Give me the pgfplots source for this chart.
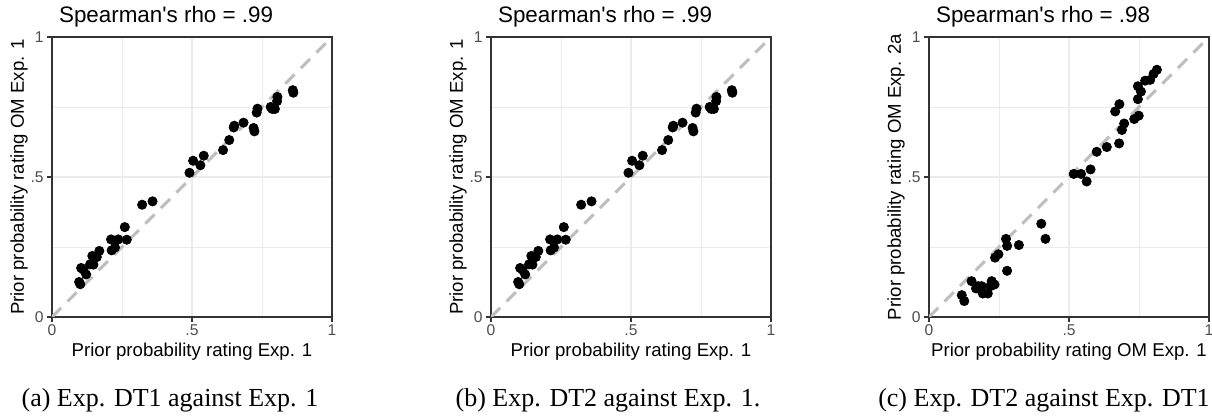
\documentclass[border=0pt]{standalone}
\usepackage{fontspec}
\setmainfont{Liberation Sans}
\newfontfamily\capfont{Liberation Serif}
\usepackage{pgfplots}
\usepackage{pgfplotstable}
\pgfplotsset{compat=1.18}

\definecolor{gridgray}{HTML}{EBEBEB}
\definecolor{framegray}{HTML}{333333}
\definecolor{ticklab}{HTML}{4D4D4D}
\definecolor{refline}{HTML}{BEBEBE}

% Exp. 1 (x) against OM Exp. 1 (y); same points in (a) and (b)
\pgfplotstableread{
x      y
0.097  0.125
0.101  0.117
0.104  0.175
0.112  0.169
0.122  0.152
0.136  0.188
0.144  0.218
0.148  0.187
0.160  0.214
0.169  0.236
0.211  0.277
0.213  0.238
0.225  0.248
0.237  0.277
0.260  0.321
0.267  0.276
0.322  0.401
0.359  0.413
0.491  0.515
0.504  0.558
0.530  0.542
0.542  0.576
0.611  0.596
0.633  0.632
0.649  0.677
0.651  0.683
0.684  0.694
0.720  0.675
0.723  0.663
0.731  0.730
0.734  0.744
0.781  0.750
0.787  0.743
0.796  0.743
0.804  0.771
0.805  0.786
0.860  0.810
0.862  0.801
}\tabExpOne

% OM Exp. 1 (x) against OM Exp. 2a (y)
\pgfplotstableread{
x      y
0.117  0.078
0.126  0.057
0.152  0.128
0.168  0.102
0.176  0.110
0.188  0.110
0.192  0.084
0.210  0.084
0.219  0.110
0.224  0.128
0.234  0.116
0.236  0.212
0.248  0.224
0.275  0.279
0.279  0.254
0.279  0.165
0.321  0.257
0.401  0.333
0.416  0.279
0.517  0.511
0.543  0.511
0.563  0.484
0.577  0.527
0.599  0.590
0.635  0.607
0.665  0.734
0.680  0.760
0.679  0.620
0.689  0.668
0.697  0.691
0.733  0.707
0.749  0.719
0.746  0.778
0.746  0.824
0.757  0.805
0.772  0.844
0.790  0.847
0.802  0.868
0.814  0.883
}\tabExpTwo

\pgfplotsset{ratingpanel/.style={
    width=140pt, height=140pt, scale only axis, anchor=south west,
    xmin=0, xmax=1, ymin=0, ymax=1,
    xtick={0,0.5,1}, ytick={0,0.5,1},
    xticklabels={0,.5,1}, yticklabels={0,.5,1},
    minor xtick={0.25,0.75}, minor ytick={0.25,0.75},
    grid=both,
    major grid style={gridgray, line width=0.6pt},
    minor grid style={gridgray, line width=0.4pt},
    axis line style={framegray, line width=0.6pt},
    tick pos=left, tick align=outside,
    major tick length=2.5pt, minor tick length=0pt,
    tick style={framegray, line width=0.6pt},
    ticklabel style={font=\fontsize{7.8}{9}\selectfont, text=ticklab},
    xticklabel style={inner sep=1pt},
    yticklabel style={inner sep=1.5pt},
    label style={font=\fontsize{9.3}{11}\selectfont},
    xlabel style={at={(axis description cs:0.5,-0.125)}, anchor=center},
    ylabel style={at={(axis description cs:-0.118,0.5)}, anchor=center},
    every axis title shift=0pt,
    title style={at={(axis description cs:0,1.071)}, anchor=west,
      font=\fontsize{11.2}{13}\selectfont},
  },
  refdiag/.style={refline, line width=1.5pt, dash pattern=on 6.5pt off 4.5pt},
  dots/.style={only marks, mark=*, mark size=2.3pt, black},
}

\begin{document}
\begin{tikzpicture}
  \path[use as bounding box] (0,0) rectangle (606pt,208.5pt);

  \begin{axis}[ratingpanel, at={(26pt,50pt)},
      title={Spearman\textquotesingle s rho = .99},
      xlabel={Prior probability rating Exp. 1},
      ylabel={Prior probability rating OM Exp. 1}]
    \addplot[refdiag] coordinates {(0,0) (1,1)};
    \addplot[dots] table {\tabExpOne};
  \end{axis}

  \begin{axis}[ratingpanel, at={(245.5pt,50pt)},
      title={Spearman\textquotesingle s rho = .99},
      xlabel={Prior probability rating Exp. 1},
      ylabel={Prior probability rating OM Exp. 1}]
    \addplot[refdiag] coordinates {(0,0) (1,1)};
    \addplot[dots] table {\tabExpOne};
  \end{axis}

  \begin{axis}[ratingpanel, at={(464.5pt,50pt)},
      title={Spearman\textquotesingle s rho = .98},
      xlabel={Prior probability rating OM Exp. 1},
      ylabel={Prior probability rating OM Exp. 2a}]
    \addplot[refdiag] coordinates {(0,0) (1,1)};
    \addplot[dots] table {\tabExpTwo};
  \end{axis}

  \begin{scope}[every node/.style={font=\capfont\fontsize{13}{15}\selectfont}]
    \node at (85pt,8.5pt) {(a) Exp. DT1 against Exp. 1};
    \node at (304pt,8.5pt) {(b) Exp. DT2 against Exp. 1.};
    \node at (522pt,8.5pt) {(c) Exp. DT2 against Exp. DT1};
  \end{scope}
\end{tikzpicture}
\end{document}
